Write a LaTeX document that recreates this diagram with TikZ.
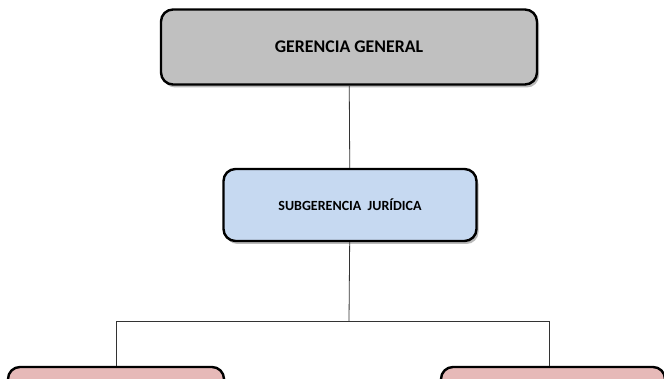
\documentclass[tikz,border=0pt]{standalone}
\usepackage{fontspec}
\setmainfont{Carlito}
\usetikzlibrary{shadows}
\definecolor{grisgg}{HTML}{C0C0C0}
\definecolor{azulsj}{HTML}{C6D9F1}
\definecolor{rosaof}{HTML}{E6B9B8}
\tikzset{
  cargo/.style={draw=black, line width=2.4pt, rounded corners=12pt,
    font=\bfseries, align=center, inner sep=0pt,
    drop shadow={shadow xshift=2pt, shadow yshift=-3pt, fill=black!45, opacity=.6}},
  enlace/.style={draw=black!80, line width=0.8pt}
}
\begin{document}
\begin{tikzpicture}[x=1pt,y=-1pt]
\useasboundingbox[fill=white] (0,0) rectangle (664,379);
\node[cargo, fill=grisgg, minimum width=376pt, minimum height=75pt, font=\bfseries\fontsize{17.8}{21}\selectfont] (gg) at (349,47) {GERENCIA GENERAL};
\node[cargo, fill=azulsj, minimum width=253pt, minimum height=72pt, font=\bfseries\fontsize{14}{17}\selectfont] (sj) at (350,205) {SUBGERENCIA\ \ JURÍDICA};
\node[cargo, fill=rosaof, minimum width=216pt, minimum height=74pt] (izq) at (116,404) {};
\node[cargo, fill=rosaof, minimum width=224pt, minimum height=74pt] (der) at (553,404) {};
\coordinate (bus) at (349,321);
\coordinate (busizq) at (116,321);
\coordinate (busder) at (549,321);
\draw[enlace] (gg) -- (sj);
\draw[enlace] (sj) -- (bus);
\draw[enlace] (izq.north -| busizq) -- (busizq) -- (busder) -- (der.north -| busder);
\end{tikzpicture}
\end{document}
